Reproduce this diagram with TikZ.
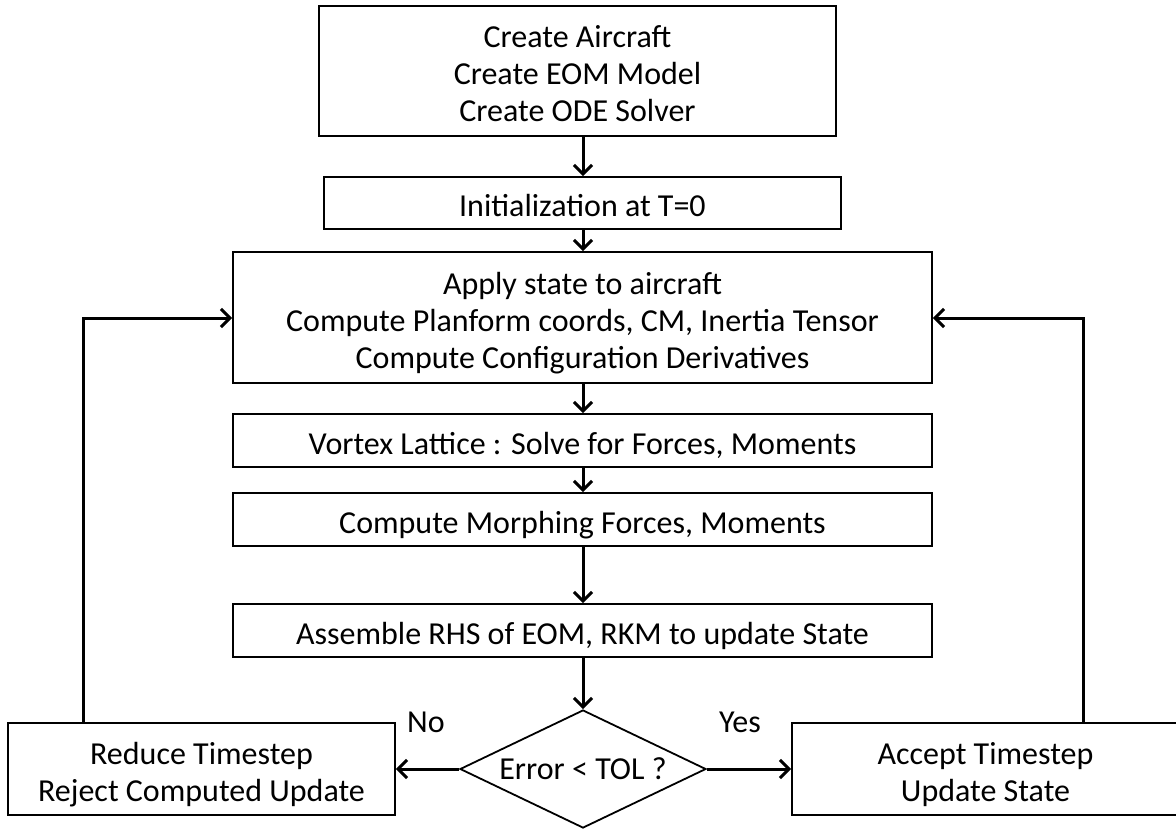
\documentclass[tikz,border=0pt]{standalone}
\usepackage{fontspec}
\setmainfont{Carlito}
\usetikzlibrary{arrows.meta,shapes.geometric}
\newcommand{\mytxt}[1]{\raisebox{-6.5pt}[\height][\depth]{\begin{tabular}{@{}c@{}}#1\end{tabular}}}
\begin{document}
\begin{tikzpicture}[x=1pt,y=-1pt,
  txt/.style={font=\fontsize{32}{37}\selectfont},
  box/.style={draw, line width=1.8pt, align=center, inner sep=0pt, txt},
  dec/.style={draw, diamond, line width=1.8pt, inner sep=0pt, minimum width=246pt, minimum height=118pt, aspect=2.08, txt},
  arr/.style={line width=3pt, -{Straight Barb[length=9pt,width=18pt]}}]
\useasboundingbox (0,0) rectangle (1176,831);
\node[box, minimum width=517pt, minimum height=130pt] (b1) at (577.5,71) {\mytxt{Create Aircraft\\Create EOM Model\\Create ODE Solver}};
\node[box, minimum width=517pt, minimum height=52pt] (b2) at (582.5,203) {\mytxt{Initialization at T=0}};
\node[box, minimum width=699pt, minimum height=131pt] (b3) at (582.5,317.5) {\mytxt{Apply state to aircraft\\Compute Planform coords, CM, Inertia Tensor\\Compute Configuration Derivatives}};
\node[box, minimum width=699pt, minimum height=53pt] (b4) at (582.5,440.5) {\mytxt{Vortex Lattice : Solve for Forces, Moments}};
\node[box, minimum width=699pt, minimum height=53pt] (b5) at (582.5,519.5) {\mytxt{Compute Morphing Forces, Moments}};
\node[box, minimum width=699pt, minimum height=53pt] (b6) at (582.5,630.5) {\mytxt{Assemble RHS of EOM, RKM to update State}};
\node[dec] (dia) at (583,769) {Error < TOL ?};
\node[box, minimum width=387pt, minimum height=92pt] (lft) at (201.5,769) {\mytxt{Reduce Timestep\\Reject Computed Update}};
\node[box, minimum width=387pt, minimum height=92pt] (rgt) at (985.5,769) {\mytxt{Accept Timestep\\Update State}};
\node[txt] (no) at (426,722) {No};
\node[txt] (yes) at (740,722) {Yes};
\coordinate (fbL) at (83,318);
\coordinate (fbR) at (1083,318);
\draw[arr] (b1.south -| dia.north) -- (b2.north -| dia.north);
\draw[arr] (b2.south -| dia.north) -- (b3.north -| dia.north);
\draw[arr] (b3.south -| dia.north) -- (b4.north -| dia.north);
\draw[arr] (b4.south -| dia.north) -- (b5.north -| dia.north);
\draw[arr] (b5.south -| dia.north) -- (b6.north -| dia.north);
\draw[arr] (b6.south -| dia.north) -- (dia.north);
\draw[arr] (dia.west) -- (lft.east);
\draw[arr] (dia.east) -- (rgt.west);
\draw[arr] (lft.north -| fbL) -- (fbL) -- (b3.west |- fbL);
\draw[arr] (rgt.north -| fbR) -- (fbR) -- (b3.east |- fbR);
\end{tikzpicture}
\end{document}
